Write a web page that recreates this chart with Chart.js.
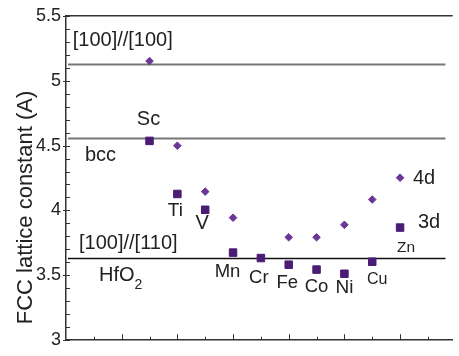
<!DOCTYPE html>
<html><head><meta charset="utf-8">
<script src="https://cdn.jsdelivr.net/npm/chart.js@4/dist/chart.umd.min.js"></script>
<style>html,body{margin:0;padding:0;background:#fff;} canvas{display:block;}</style>
</head><body>
<canvas id="c" width="459" height="356"></canvas>
<script>
// ---- data ----
const positions = [3, 4, 5, 6, 7, 8, 9, 10, 11, 12];
const elements3d = ['Sc', 'Ti', 'V', 'Mn', 'Cr', 'Fe', 'Co', 'Ni', 'Cu', 'Zn'];
const values3d = [4.536, 4.127, 4.005, 3.675, 3.633, 3.582, 3.544, 3.512, 3.605, 3.868];
const values4d = [5.151, 4.499, 4.145, 3.944, null, 3.793, 3.793, 3.889, 4.084, 4.252];
const refLevels = [5.131, 4.561, 3.630];
const refLabels = ['[100]//[100]', 'bcc', '[100]//[110]', 'HfO'];
const yTicks = [3, 3.5, 4, 4.5, 5, 5.5];
const seriesNames = ['4d', '3d'];
const yTitle = 'FCC lattice constant (A)';

const FONT = "'Liberation Sans', Arial, Helvetica, sans-serif";
const TXT = '#222';

const pts = (vals) => positions.map((x, i) => ({x: x, y: vals[i]})).filter(p => p.y !== null);

const deco = {
  id: 'deco',
  beforeDatasetsDraw(chart) {
    const {ctx, chartArea: ca, scales: {x, y}} = chart;
    ctx.save();
    ctx.strokeStyle = '#333'; ctx.lineWidth = 1.5;
    ctx.beginPath(); ctx.moveTo(ca.left, ca.top); ctx.lineTo(ca.right, ca.top); ctx.stroke();
    const xEnd = x.getPixelForValue(13.63);
    const styles = [['#777', 2], ['#777', 2], ['#111', 1.4]];
    refLevels.forEach((lv, i) => {
      const py = Math.round(y.getPixelForValue(lv)) + 0.5;
      ctx.strokeStyle = styles[i][0]; ctx.lineWidth = styles[i][1];
      ctx.beginPath(); ctx.moveTo(ca.left + 2, py); ctx.lineTo(xEnd, py); ctx.stroke();
    });
    ctx.strokeStyle = '#333'; ctx.lineWidth = 1;
    for (let k = 30; k <= 55; k++) {
      const py = Math.round(y.getPixelForValue(k / 10)) + 0.5;
      const major = k % 5 === 0;
      ctx.beginPath(); ctx.moveTo(ca.left - (major ? 3 : 0), py); ctx.lineTo(ca.left + 4, py); ctx.stroke();
    }
    for (let n = 1; n <= 13; n++) {
      const px = Math.round(x.getPixelForValue(n)) + 0.5;
      const len = n % 2 === 0 ? 6 : 3.5;
      ctx.beginPath(); ctx.moveTo(px, ca.bottom); ctx.lineTo(px, ca.bottom - len); ctx.stroke();
    }
    ctx.restore();
  },
  afterDraw(chart) {
    const {ctx, scales: {x, y}} = chart;
    ctx.save();
    ctx.fillStyle = TXT;
    ctx.textBaseline = 'middle';
    ctx.textAlign = 'left';
    ctx.font = `20px ${FONT}`;
    const rl = [[refLevels[0], -23, 72.7], [refLevels[1], 18, 85], [refLevels[2], -15, 79], [refLevels[2], 17, 99]];
    rl.forEach((r, i) => {
      ctx.fillText(refLabels[i], r[2], y.getPixelForValue(r[0]) + r[1]);
    });
    const hfW = ctx.measureText(refLabels[3]).width;
    ctx.font = `14px ${FONT}`;
    ctx.fillText('2', 99 + hfW, y.getPixelForValue(refLevels[2]) + 27);
    ctx.textAlign = 'center';
    const offs = [[-1, -21.5, 20], [-2, 17, 19], [-3, 14, 20], [-5.5, 19, 18.5], [-2, 20, 18.5], [-1.5, 18.5, 18.5], [0, 17.5, 18.5], [0, 14.5, 19], [5, 18, 16], [6, 20.5, 15.5]];
    elements3d.forEach((el, i) => {
      const o = offs[i];
      ctx.font = `${o[2]}px ${FONT}`;
      ctx.fillText(el, x.getPixelForValue(positions[i]) + o[0], y.getPixelForValue(values3d[i]) + o[1]);
    });
    ctx.font = `20px ${FONT}`;
    const last = positions.length - 1;
    ctx.fillText(seriesNames[0], x.getPixelForValue(positions[last]) + 24, y.getPixelForValue(values4d[last]) + 1);
    ctx.fillText(seriesNames[1], x.getPixelForValue(positions[last]) + 29, y.getPixelForValue(values3d[last]) - 5);
    ctx.font = `22px ${FONT}`;
    ctx.translate(25.5, 207.5);
    ctx.rotate(-Math.PI / 2);
    ctx.fillText(yTitle, 0, 0);
    ctx.restore();
  }
};

new Chart(document.getElementById('c'), {
  type: 'scatter',
  data: {
    datasets: [
      {label: seriesNames[0], data: pts(values4d), pointStyle: 'rectRot', pointRadius: 3.8,
       backgroundColor: '#6c3596', borderColor: '#6c3596', borderWidth: 1},
      {label: seriesNames[1], data: pts(values3d), pointStyle: 'rect', pointRadius: 5.3,
       backgroundColor: '#4a1c74', borderColor: '#4a1c74', borderWidth: 1}
    ]
  },
  options: {
    responsive: false,
    animation: false,
    devicePixelRatio: 1,
    layout: {padding: {top: 11, right: 0, left: 0, bottom: 0}},
    plugins: {legend: {display: false}, tooltip: {enabled: false}},
    scales: {
      x: {
        type: 'linear', min: 0, max: 13.89,
        ticks: {display: false},
        grid: {display: false, drawTicks: false},
        border: {display: true, color: '#333', width: 1.5},
        afterFit: s => { s.height = 13; }
      },
      y: {
        type: 'linear', min: 3, max: 5.5,
        afterBuildTicks: s => { s.ticks = yTicks.map(v => ({value: v})); },
        ticks: {color: TXT, font: {family: FONT, size: 18}, padding: 5, callback: v => String(v)},
        grid: {display: false, drawTicks: false},
        border: {display: true, color: '#333', width: 1.5},
        afterFit: s => { s.width = 66; }
      }
    }
  },
  plugins: [deco]
});
</script>
</body></html>
